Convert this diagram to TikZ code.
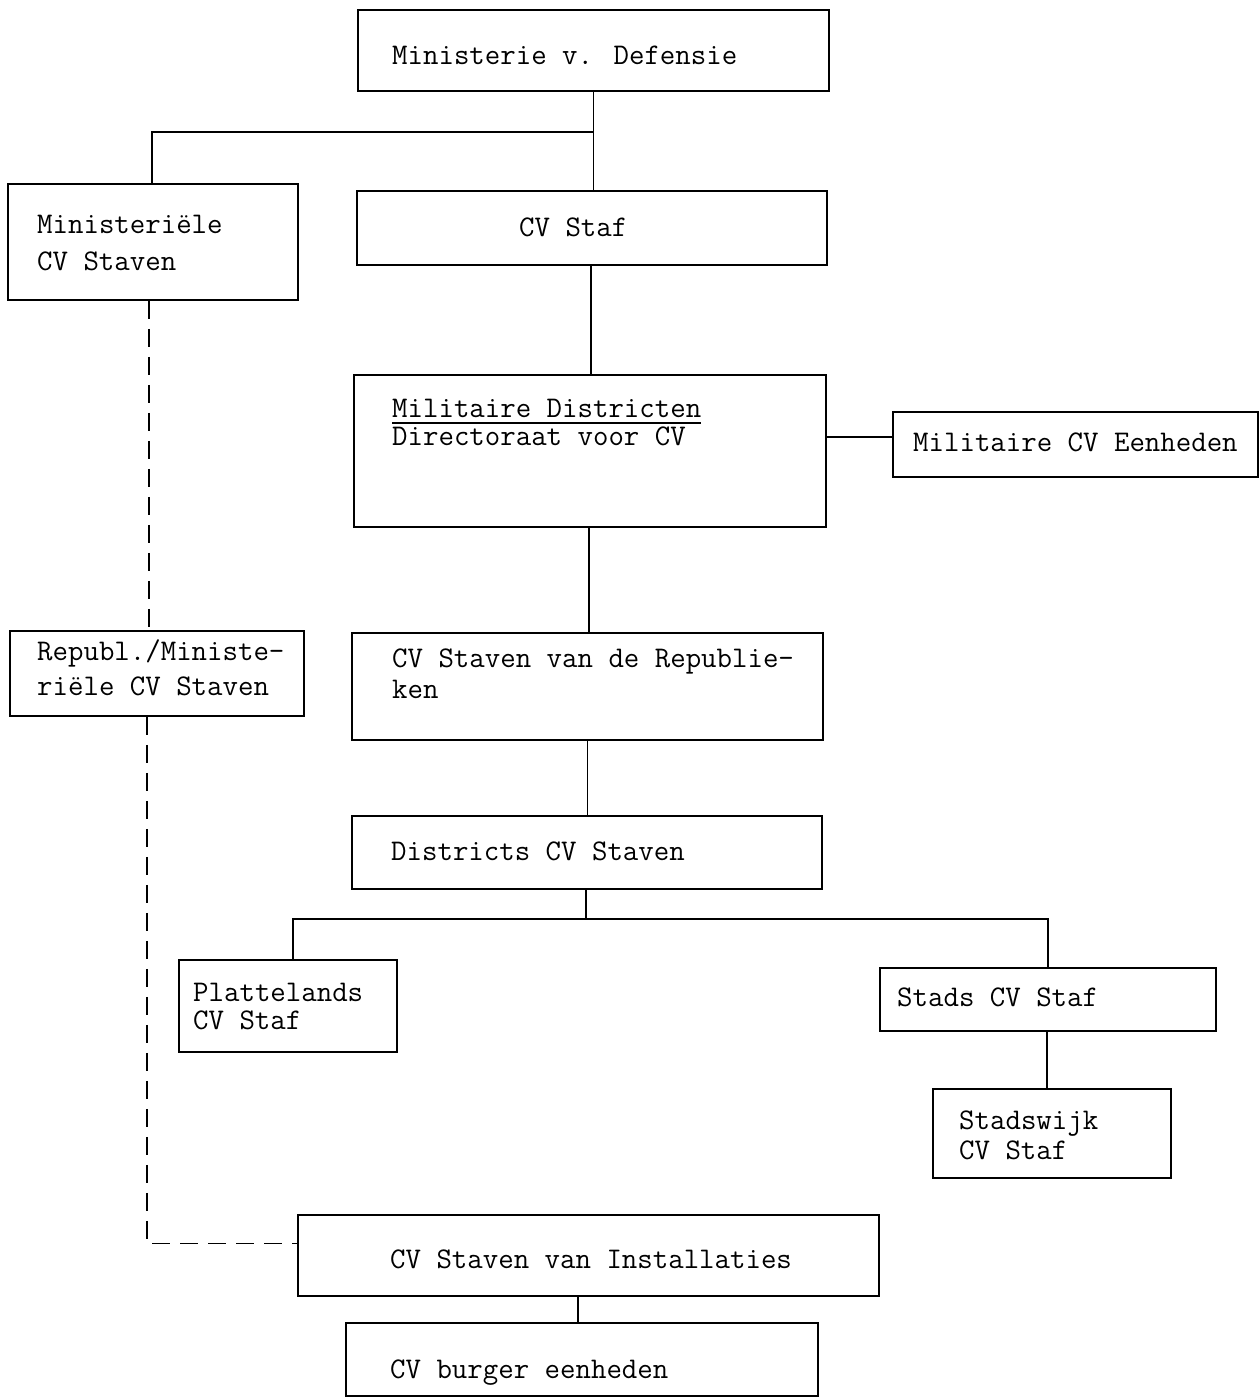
\documentclass[tikz,border=0pt]{standalone}
\usepackage{fontspec}
\newfontfamily\tw{Latin Modern Mono}
\begin{document}
\begin{tikzpicture}[x=1pt,y=-1pt,
  box/.style={draw, line width=1.8pt, rectangle, inner sep=0pt},
  txt/.style={font=\tw\fontsize{30}{34}\selectfont, inner sep=0pt, anchor=base west},
  conn/.style={line width=1.8pt},
  dconn/.style={line width=1.6pt, dash pattern=on 18pt off 10pt}]
\useasboundingbox[fill=white] (0,0) rectangle (1260,1398);
% boxes
\node[box, minimum width=471, minimum height=81]  (min) at (593.5,50.5) {};
\node[box, minimum width=290, minimum height=116] (mst) at (153,242) {};
\node[box, minimum width=470, minimum height=74]  (staf) at (592,228) {};
\node[box, minimum width=472, minimum height=152] (mil) at (590,451) {};
\node[box, minimum width=365, minimum height=65]  (mile) at (1075.5,444.5) {};
\node[box, minimum width=294, minimum height=85]  (rep) at (157,673.5) {};
\node[box, minimum width=471, minimum height=107] (cvr) at (587.5,686.5) {};
\node[box, minimum width=470, minimum height=73]  (dis) at (587,852.5) {};
\node[box, minimum width=218, minimum height=92]  (pla) at (288,1006) {};
\node[box, minimum width=336, minimum height=63]  (sta) at (1048,999.5) {};
\node[box, minimum width=238, minimum height=89]  (swk) at (1052,1133.5) {};
\node[box, minimum width=581, minimum height=81]  (ins) at (588.5,1255.5) {};
\node[box, minimum width=472, minimum height=73]  (bur) at (582,1359.5) {};
% texts
\node[txt] (t1) at (392,64) {Ministerie v. Defensie};
\node[txt] (t2a) at (37,233) {Ministeriële};
\node[txt] (t2b) at (37,270) {CV Staven};
\node[txt] (t3) at (519,236) {CV Staf};
\node[txt] (t4a) at (392,417) {Militaire Districten};
\node[txt] (t4b) at (392,445) {Directoraat voor CV};
\draw[line width=1.2pt] ([yshift=-6pt]t4a.base west) -- ([yshift=-6pt]t4a.base east);
\node[txt] (t5) at (913,451) {Militaire CV Eenheden};
\node[txt] (t6a) at (37,660) {Republ./Ministe-};
\node[txt] (t6b) at (37,695) {riële CV Staven};
\node[txt] (t7a) at (392,667) {CV Staven van de Republie-};
\node[txt] (t7b) at (392,698) {ken};
\node[txt] (t8) at (391,860) {Districts CV Staven};
\node[txt] (t9a) at (193,1001) {Plattelands};
\node[txt] (t9b) at (193,1029) {CV Staf};
\node[txt] (t10) at (897,1006) {Stads CV Staf};
\node[txt] (t11a) at (959,1129) {Stadswijk};
\node[txt] (t11b) at (959,1159) {CV Staf};
\node[txt] (t12) at (390,1268) {CV Staven van Installaties};
\node[txt] (t13) at (390,1378) {CV burger eenheden};
% connectors
\coordinate (j1) at ([yshift=-40pt]min.south);
\draw[conn] (min.south) -- (min.south |- staf.north);
\draw[conn] (j1) -| ([xshift=-1pt]mst.north);
\draw[conn] ([xshift=-1pt]staf.south) -- ([xshift=-1pt]staf.south |- mil.north);
\draw[conn] ([yshift=7.5pt]mile.west) -- ([yshift=7.5pt]mile.west -| mil.east);
\draw[conn] ([xshift=-1pt]mil.south) -- ([xshift=-1pt]mil.south |- cvr.north);
\draw[conn] (cvr.south) -- (cvr.south |- dis.north);
\coordinate (j2) at ([yshift=-29pt,xshift=-1pt]dis.south);
\draw[conn] ([xshift=-1pt]dis.south) -- (j2);
\draw[conn] (j2) -| ([xshift=5pt]pla.north);
\draw[conn] (j2) -| (sta.north);
\draw[conn] ([xshift=-1pt]sta.south) -- ([xshift=-1pt]sta.south |- swk.north);
\draw[dconn] ([xshift=-4pt]mst.south) -- ([xshift=-4pt]mst.south |- rep.north);
\draw[dconn] ([xshift=-10pt]rep.south) |- ([yshift=12pt]ins.west);
\draw[conn] ([xshift=-10.5pt]ins.south) -- ([xshift=-10.5pt]ins.south |- bur.north);
\end{tikzpicture}
\end{document}
